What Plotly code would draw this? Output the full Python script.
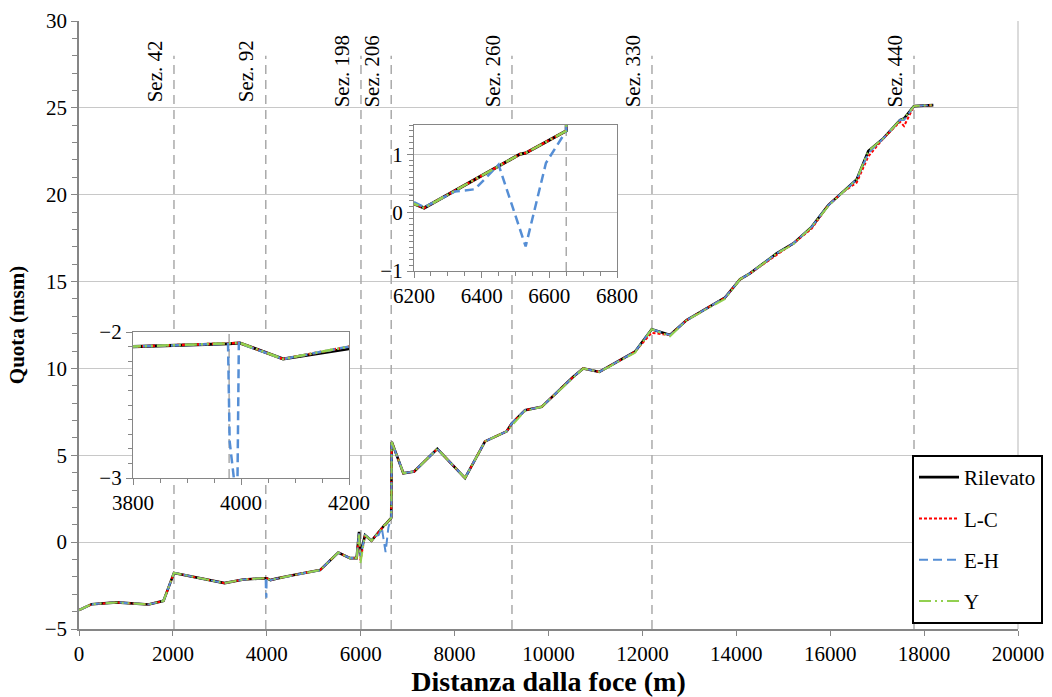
import plotly.graph_objects as go

# ---------------- data ----------------
rilevato_x = [0, 270, 800, 1480, 1800, 2023, 3100, 3500, 3800, 3978, 3998, 4078, 4200, 4600, 5133,
              5523, 5772, 5914, 5965, 5995, 6092, 6200, 6230, 6513, 6530, 6650, 6662, 6908, 7140, 7632,
              8222, 8648, 9110, 9216, 9500, 9855, 10528, 10741, 11082, 11842, 12198, 12588, 12943, 13759, 14079,
              14292, 14860, 15215, 15606, 15960, 16280, 16564, 16812, 17131, 17487, 17572, 17785, 18196]
rilevato_y = [-3.91, -3.57, -3.47, -3.59, -3.38, -1.77, -2.36, -2.15, -2.10, -2.08, -2.075, -2.185, -2.10, -1.88, -1.61,
              -0.60, -0.92, -0.92, 0.59, -0.70, 0.40, 0.15, 0.08, 1.00, 1.02, 1.40, 5.77, 3.97, 4.07, 5.37,
              3.69, 5.80, 6.38, 6.83, 7.60, 7.79, 9.52, 10.00, 9.80, 10.96, 12.26, 11.92, 12.78, 14.08, 15.13,
              15.47, 16.62, 17.20, 18.15, 19.40, 20.17, 20.88, 22.51, 23.24, 24.30, 24.39, 25.10, 25.16]

lc_x = rilevato_x
lc_y = [-3.91, -3.57, -3.47, -3.59, -3.38, -1.77, -2.36, -2.15, -2.10, -2.08, -2.075, -2.185, -2.10, -1.88, -1.61,
        -0.60, -0.92, -0.92, 0.50, -1.05, 0.40, 0.15, 0.08, 1.00, 1.02, 1.40, 5.77, 3.97, 4.07, 5.37,
        3.69, 5.80, 6.38, 6.83, 7.60, 7.79, 9.52, 10.00, 9.80, 10.96, 12.05, 11.92, 12.78, 14.08, 15.13,
        15.47, 16.55, 17.20, 18.05, 19.40, 20.17, 20.70, 22.20, 23.24, 24.20, 23.95, 25.10, 25.16]

eh_x = [0, 270, 800, 1480, 1800, 2023, 3100, 3500, 3800, 3976, 3979, 3993, 3996, 4078, 4200, 4600, 5133,
        5523, 5772, 5914, 5965, 5995, 6092, 6200, 6230, 6320, 6380, 6450, 6530, 6590, 6650, 6662, 6908, 7140, 7632,
        8222, 8648, 9110, 9216, 9500, 9855, 10528, 10741, 11082, 11842, 12198, 12588, 12943, 13759, 14079,
        14292, 14860, 15215, 15606, 15960, 16280, 16564, 16812, 17131, 17487, 17572, 17785, 18196]
eh_y = [-3.91, -3.57, -3.47, -3.59, -3.38, -1.77, -2.36, -2.15, -2.10, -2.08, -2.75, -3.20, -2.076, -2.185, -2.10, -1.88, -1.61,
        -0.60, -0.92, -0.92, 0.59, -0.80, 0.40, 0.18, 0.09, 0.36, 0.40, 0.82, -0.58, 0.85, 1.40, 5.77, 3.97, 4.07, 5.37,
        3.69, 5.80, 6.38, 6.83, 7.60, 7.79, 9.52, 10.00, 9.80, 10.96, 12.26, 11.92, 12.78, 14.08, 15.13,
        15.47, 16.62, 17.20, 18.15, 19.40, 20.17, 20.88, 22.40, 23.24, 24.30, 24.30, 25.10, 25.16]

y_x = rilevato_x
y_y = [-3.91, -3.57, -3.47, -3.59, -3.38, -1.77, -2.36, -2.15, -2.10, -2.08, -2.075, -2.185, -2.10, -1.88, -1.61,
       -0.60, -0.92, -0.92, 0.50, -1.20, 0.40, 0.15, 0.08, 1.00, 1.02, 1.40, 5.77, 3.97, 4.07, 5.37,
       3.69, 5.80, 6.38, 6.70, 7.55, 7.79, 9.45, 10.00, 9.80, 10.90, 12.26, 11.85, 12.78, 14.00, 15.13,
       15.47, 16.62, 17.15, 18.15, 19.35, 20.17, 20.88, 22.51, 23.24, 24.30, 24.39, 25.10, 25.16]

section_names = ["Sez. 42", "Sez. 92", "Sez. 198", "Sez. 206", "Sez. 260", "Sez. 330", "Sez. 440"]
section_x = [2023, 3978, 6006, 6650, 9222, 12204, 17785]

series = [
    ("Rilevato", rilevato_x, rilevato_y, "#000000", "solid", 2.6),
    ("L-C", lc_x, lc_y, "#FF0000", "3px,2px", 2),
    ("E-H", eh_x, eh_y, "#558ED5", "9px,5px", 2),
    ("Y", y_x, y_y, "#92D050", "12px,4px,2px,4px,2px,4px", 2),
]

FONT = "Liberation Serif"
GRID = "#C8C8C8"
AXIS = "#868686"
SEC = "#AAAAAA"

MAIN_X = [0, 20000]
MAIN_Y = [-5, 30]
IN1_X = [6200, 6800]
IN1_Y = [-1, 1.5]
IN2_X = [3800, 4200]
IN2_Y = [-3, -2]
SEC_TOP = 28.0

W, H = 1052, 697


def px_dom(a, b):
    return [a / W, b / W]


def py_dom(top, bottom):
    return [1 - bottom / H, 1 - top / H]


fig = go.Figure()

for sx in section_x:
    fig.add_trace(go.Scatter(x=[sx, sx], y=[MAIN_Y[0], SEC_TOP], mode="lines",
                             line=dict(color=SEC, width=1.5, dash="9px,6px"),
                             showlegend=False, hoverinfo="skip", xaxis="x", yaxis="y"))
for sx in section_x:
    if IN1_X[0] <= sx <= IN1_X[1]:
        fig.add_trace(go.Scatter(x=[sx, sx], y=IN1_Y, mode="lines",
                                 line=dict(color=SEC, width=1.5, dash="9px,6px"),
                                 showlegend=False, hoverinfo="skip", xaxis="x2", yaxis="y2"))
    if IN2_X[0] <= sx <= IN2_X[1]:
        fig.add_trace(go.Scatter(x=[sx, sx], y=IN2_Y, mode="lines",
                                 line=dict(color=SEC, width=1.5, dash="9px,6px"),
                                 showlegend=False, hoverinfo="skip", xaxis="x3", yaxis="y3"))

for i, (name, xs, ys, col, dash, w) in enumerate(series):
    fig.add_trace(go.Scatter(x=xs, y=ys, mode="lines", name=name, legendgroup=name,
                             line=dict(color=col, width=w, dash=dash), xaxis="x", yaxis="y"))
    fig.add_trace(go.Scatter(x=xs, y=ys, mode="lines", name=name, legendgroup=name, showlegend=False,
                             line=dict(color=col, width=w + 0.5, dash=dash), xaxis="x2", yaxis="y2"))
    fig.add_trace(go.Scatter(x=xs, y=ys, mode="lines", name=name, legendgroup=name, showlegend=False,
                             line=dict(color=col, width=w + 0.5, dash=dash), xaxis="x3", yaxis="y3"))

for name, sx in zip(section_names, section_x):
    fig.add_annotation(x=sx, y=27.1, xref="x", yref="y", text=name, textangle=-90,
                       showarrow=False, xshift=-19, font=dict(family=FONT, size=21, color="black"))

tickfont = dict(family=FONT, size=21, color="black")
common = dict(automargin=False, zeroline=False, showline=True, linecolor=AXIS, tickcolor=AXIS,
              ticks="outside", tickfont=tickfont)

fig.update_layout(
    width=W, height=H,
    margin=dict(l=0, r=0, t=0, b=0, pad=0, autoexpand=False),
    paper_bgcolor="white", plot_bgcolor="white",
    font=dict(family=FONT, size=20, color="black"),
    xaxis=dict(domain=px_dom(79, 1018), range=MAIN_X, dtick=2000, tickformat="d", showgrid=False,
               anchor="y", linewidth=1.5, ticklen=5,
               title=dict(text="<b>Distanza dalla foce (m)</b>", font=dict(family=FONT, size=28), standoff=11),
               **common),
    yaxis=dict(domain=py_dom(21, 629), range=MAIN_Y, dtick=5, showgrid=True, gridcolor=GRID, gridwidth=1.3,
               anchor="x", linewidth=1.5, ticklen=6,
               minor=dict(dtick=1, ticks="outside", ticklen=5, tickcolor=AXIS, showgrid=False),
               title=dict(text="<b>Quota (msm)</b>", font=dict(family=FONT, size=21), standoff=14),
               **common),
    xaxis2=dict(domain=px_dom(414, 617), anchor="y2", range=IN1_X, dtick=200, tickformat="d",
                showgrid=False, linewidth=1.3, mirror=True, ticklen=6,
                minor=dict(dtick=50, ticks="outside", ticklen=4, tickcolor=AXIS), **common),
    yaxis2=dict(domain=py_dom(125, 271), anchor="x2", range=IN1_Y, tickvals=[-1, 0, 1], showgrid=True,
                gridcolor=GRID, linewidth=1.3, mirror=True, ticklen=6,
                minor=dict(dtick=0.1, ticks="outside", ticklen=4, tickcolor=AXIS, showgrid=False), **common),
    xaxis3=dict(domain=px_dom(133, 349), anchor="y3", range=IN2_X, dtick=200, tickformat="d",
                showgrid=False, linewidth=1.3, mirror=True, ticklen=6,
                minor=dict(dtick=50, ticks="outside", ticklen=4, tickcolor=AXIS), **common),
    yaxis3=dict(domain=py_dom(332, 478), anchor="x3", range=IN2_Y, dtick=1, showgrid=False,
                linewidth=1.3, mirror=True, ticklen=6,
                minor=dict(dtick=0.1, ticks="outside", ticklen=4, tickcolor=AXIS, showgrid=False), **common),
    legend=dict(x=912 / W, y=1 - 455 / H, xanchor="left", yanchor="top", bgcolor="white",
                bordercolor="black", borderwidth=2, font=dict(family=FONT, size=21),
                tracegroupgap=11, itemwidth=40),
    showlegend=True,
)

fig.add_shape(type="line", xref="paper", yref="paper", x0=1018 / W, x1=1018 / W,
              y0=1 - 629 / H, y1=1 - 21 / H,
              line=dict(color=GRID, width=1.3), layer="below")

fig.write_html("out.html")
